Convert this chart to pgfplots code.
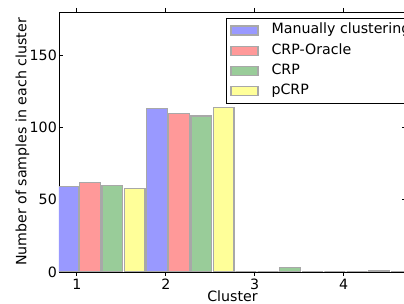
\documentclass[border=0pt]{standalone}
\usepackage{fontspec}
\setmainfont{DejaVu Sans}
\usepackage{pgfplots}
\pgfplotsset{compat=1.18}
\definecolor{cblue}{HTML}{9999FF}
\definecolor{cred}{HTML}{FF9999}
\definecolor{cgreen}{HTML}{99CC99}
\definecolor{cyellow}{HTML}{FFFF99}
\definecolor{cedge}{HTML}{A8A8A8}
\begin{document}
\fontsize{14.2}{16}\selectfont
\begin{tikzpicture}[x=1pt,y=1pt]
\begin{axis}[
  at={(59pt,32pt)}, anchor=south west,
  scale only axis, width=347pt, height=260pt,
  xmin=0.8, xmax=4.7, ymin=0, ymax=180,
  xtick={1,2,3,4}, ytick={0,50,100,150},
  /pgf/number format/assume math mode=true,
  tick align=inside, major tick length=4pt,
  tick style={black, line width=0.6pt},
  axis line style={black, line width=0.9pt},
  xticklabel style={inner ysep=3pt, text depth=0pt},
  yticklabel style={inner xsep=2pt},
  xlabel={Cluster},
  ylabel={Number of samples in each cluster},
  xlabel style={at={(axis description cs:0.5,-0.112)}, anchor=base, inner sep=0pt, text depth=0pt},
  ylabel style={at={(axis description cs:-0.0937,0.5)}, anchor=base},
  ybar, bar width=0.235, bar shift=0pt,
  every axis plot/.append style={draw=cedge, line width=1.2pt},
  legend image code/.code={\draw[#1] (0pt,-4.5pt) rectangle (27pt,4.5pt);},
  legend cell align=left,
  legend style={at={(0.481,0.977)}, anchor=north west, draw=black, line width=0.9pt,
    inner xsep=4pt, inner ysep=5.5pt, row sep=7.2pt, column sep=13pt,
    nodes={inner sep=0pt, text height=10pt, text depth=3pt}},
]
\addplot[fill=cblue] coordinates {(0.9,59) (1.9,113) (2.9,0) (3.9,0)};
\addplot[fill=cred] coordinates {(1.15,62) (2.15,110) (3.15,0) (4.15,0)};
\addplot[fill=cgreen] coordinates {(1.4,60) (2.4,108) (3.4,3) (4.4,1)};
\addplot[fill=cyellow] coordinates {(1.65,58) (2.65,114) (3.65,0) (4.65,0)};
\legend{Manually clustering, CRP-Oracle, CRP, pCRP}
\end{axis}
\pgfresetboundingbox
\useasboundingbox (0pt,0pt) rectangle (404pt,304pt);
\end{tikzpicture}
\end{document}
